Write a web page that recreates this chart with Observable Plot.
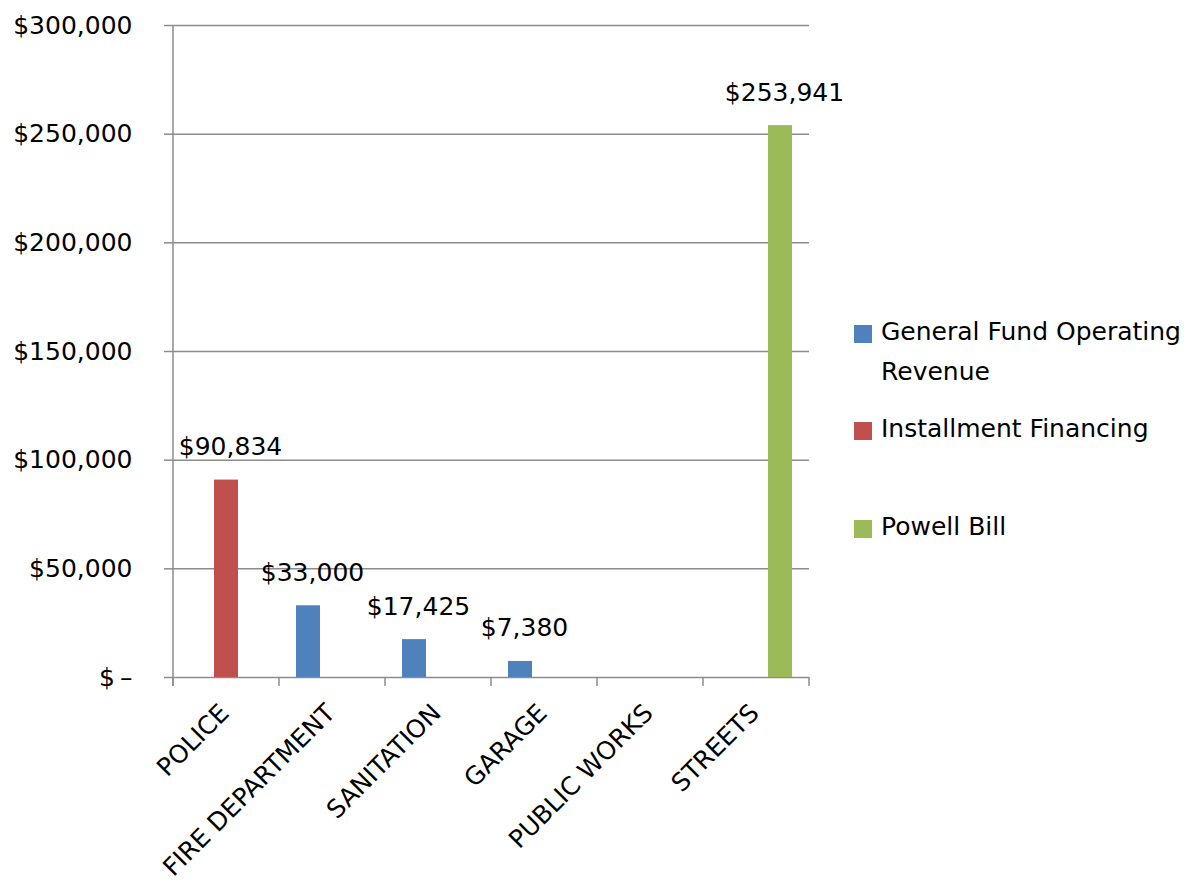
<!DOCTYPE html>
<html><head><meta charset="utf-8">
<script src="https://cdn.jsdelivr.net/npm/d3@7"></script>
<script src="https://cdn.jsdelivr.net/npm/@observablehq/plot@0.6"></script>
<style>
body{margin:0;background:#fff;}
#chart svg{font-family:"DejaVu Sans",sans-serif;}
</style>
</head><body><div id="chart"></div>
<script>
const categories = ["POLICE","FIRE DEPARTMENT","SANITATION","GARAGE","PUBLIC WORKS","STREETS"];
const seriesNames = ["General Fund Operating Revenue","Installment Financing","Powell Bill"];
const legendLines = [["General Fund Operating","Revenue"],["Installment Financing"],["Powell Bill"]];
const seriesColors = ["#4F81BD","#C0504D","#9BBB59"];
const generalFund = [null, 33000, 17425, 7380, null, null];
const installment = [90834, null, null, null, null, null];
const powellBill = [null, null, null, null, null, 253941];
const yTicks = [0, 50000, 100000, 150000, 200000, 250000, 300000];

const seriesValues = [generalFund, installment, powellBill];
const seriesRows = seriesValues.map((arr, s) =>
  categories.map((c, i) => ({category: c, series: seriesNames[s], value: arr[i]})).filter(d => d.value != null));

const fmt = v => v === 0 ? "$\u2009\u2013" : "$" + d3.format(",")(v);
const gray = "#8c8c8c";
const fs = 25;
const offsets = [-24, 0, 24];

const marks = [
  Plot.gridY(yTicks, {stroke: gray, strokeOpacity: 1, strokeWidth: 1.5}),
  Plot.axisY(yTicks, {tickSize: 9, tickPadding: 32, tickFormat: fmt, stroke: gray, strokeWidth: 1.5, fill: "#000", fontSize: fs, label: null}),
  Plot.text(categories, {x: d => d, frameAnchor: "bottom", text: d => d, rotate: -45, textAnchor: "end", dx: 4, dy: 37, fontSize: fs, fill: "#000"})
];
seriesRows.forEach((rows, s) => {
  marks.push(Plot.barY(rows, {x: "category", y: "value", fill: seriesColors[s], dx: offsets[s], insetLeft: 41, insetRight: 41}));
  marks.push(Plot.text(rows, {x: "category", y: "value", text: d => fmt(d.value), dx: offsets[s] + 4, dy: -33, fontSize: fs, fill: "#000"}));
});

const chart = Plot.plot({
  width: 1195,
  height: 884,
  marginLeft: 173,
  marginRight: 386,
  marginTop: 25,
  marginBottom: 207,
  style: {fontFamily: "DejaVu Sans", fontSize: fs + "px", background: "#fff", overflow: "visible"},
  x: {domain: categories, padding: 0, axis: null},
  y: {domain: [0, 300000], axis: null},
  marks
});
document.getElementById("chart").append(chart);

// axis line and category boundary ticks from the Plot scales
const sx = chart.scale("x"), sy = chart.scale("y");
const svg = d3.select(chart);
const y0 = sy.apply(0), yTop = sy.apply(300000);
const bounds = categories.map(c => sx.apply(c));
bounds.push(sx.apply(categories[categories.length - 1]) + sx.bandwidth);
const g = svg.append("g").attr("stroke", gray).attr("stroke-width", 1.5);
g.append("line").attr("x1", bounds[0]).attr("x2", bounds[0]).attr("y1", yTop).attr("y2", y0 + 9);
bounds.forEach(x => g.append("line").attr("x1", x).attr("x2", x).attr("y1", y0).attr("y2", y0 + 9));

// legend
const lg = svg.append("g").attr("font-family", "DejaVu Sans").attr("font-size", fs).attr("text-anchor", "start");
const legendTop = [340, 437, 535];
legendLines.forEach((lines, s) => {
  lg.append("rect").attr("x", 854).attr("y", legendTop[s] - 15).attr("width", 18).attr("height", 18).attr("fill", seriesColors[s]);
  lines.forEach((t, j) => lg.append("text").attr("x", 881).attr("y", legendTop[s] + j * 40).attr("fill", "#000").attr("text-anchor", "start").text(t));
});
</script>
</body></html>
